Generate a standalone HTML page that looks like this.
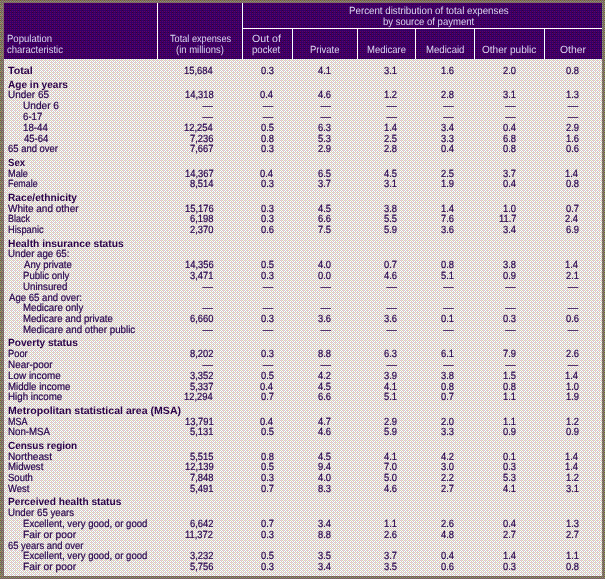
<!DOCTYPE html>
<html lang="en"><head><meta charset="utf-8"><title>Total expenses by population characteristic</title>
<style>
html,body{margin:0;padding:0;background:#fff;overflow:hidden}
#t{position:relative;width:605px;height:579px;overflow:hidden;font-family:"Liberation Sans",sans-serif;font-size:10.4px;line-height:12px;text-rendering:geometricPrecision;color:#26004d;-webkit-text-stroke:0.2px #26004d}
#t svg{position:absolute;left:0;top:0;shape-rendering:crispEdges}
#t span{position:absolute;white-space:nowrap;transform-origin:0 0;display:block}
#t .h{color:#dcd5f2;-webkit-text-stroke:0}
#t .b{font-weight:bold;color:#2a0048;-webkit-text-stroke:0}
</style></head>
<body><div id="t">
<svg width="605" height="579" viewBox="0 0 605 579">
<defs>
<pattern id="pb" width="8" height="8" patternUnits="userSpaceOnUse">
<rect width="8" height="8" fill="#666666"/>
<rect x="0" y="0" width="1" height="1" fill="#666633"/>
<rect x="1" y="0" width="1" height="1" fill="#996666"/>
<rect x="3" y="0" width="1" height="1" fill="#996666"/>
<rect x="4" y="0" width="1" height="1" fill="#666633"/>
<rect x="5" y="0" width="1" height="1" fill="#996666"/>
<rect x="7" y="0" width="1" height="1" fill="#996666"/>
<rect x="0" y="1" width="1" height="1" fill="#999966"/>
<rect x="2" y="1" width="1" height="1" fill="#999966"/>
<rect x="4" y="1" width="1" height="1" fill="#999966"/>
<rect x="6" y="1" width="1" height="1" fill="#999966"/>
<rect x="1" y="2" width="1" height="1" fill="#996666"/>
<rect x="3" y="2" width="1" height="1" fill="#996666"/>
<rect x="5" y="2" width="1" height="1" fill="#996666"/>
<rect x="7" y="2" width="1" height="1" fill="#996666"/>
<rect x="0" y="3" width="1" height="1" fill="#999966"/>
<rect x="2" y="3" width="1" height="1" fill="#999966"/>
<rect x="4" y="3" width="1" height="1" fill="#999966"/>
<rect x="6" y="3" width="1" height="1" fill="#999966"/>
<rect x="0" y="4" width="1" height="1" fill="#666633"/>
<rect x="1" y="4" width="1" height="1" fill="#996666"/>
<rect x="3" y="4" width="1" height="1" fill="#996666"/>
<rect x="4" y="4" width="1" height="1" fill="#666633"/>
<rect x="5" y="4" width="1" height="1" fill="#996666"/>
<rect x="7" y="4" width="1" height="1" fill="#996666"/>
<rect x="0" y="5" width="1" height="1" fill="#999966"/>
<rect x="2" y="5" width="1" height="1" fill="#999966"/>
<rect x="4" y="5" width="1" height="1" fill="#999966"/>
<rect x="6" y="5" width="1" height="1" fill="#999966"/>
<rect x="1" y="6" width="1" height="1" fill="#999966"/>
<rect x="3" y="6" width="1" height="1" fill="#996666"/>
<rect x="5" y="6" width="1" height="1" fill="#996666"/>
<rect x="7" y="6" width="1" height="1" fill="#996666"/>
<rect x="0" y="7" width="1" height="1" fill="#999966"/>
<rect x="1" y="7" width="1" height="1" fill="#996666"/>
<rect x="2" y="7" width="1" height="1" fill="#999966"/>
<rect x="4" y="7" width="1" height="1" fill="#999966"/>
<rect x="6" y="7" width="1" height="1" fill="#999966"/>
</pattern>
<pattern id="ph" width="8" height="8" patternUnits="userSpaceOnUse">
<rect width="8" height="8" fill="#330066"/>
<rect x="0" y="0" width="1" height="1" fill="#330033"/>
<rect x="4" y="0" width="1" height="1" fill="#330033"/>
<rect x="0" y="1" width="1" height="1" fill="#660066"/>
<rect x="2" y="1" width="1" height="1" fill="#660066"/>
<rect x="4" y="1" width="1" height="1" fill="#660066"/>
<rect x="6" y="1" width="1" height="1" fill="#660066"/>
<rect x="2" y="2" width="1" height="1" fill="#330033"/>
<rect x="0" y="3" width="1" height="1" fill="#660066"/>
<rect x="2" y="3" width="1" height="1" fill="#660066"/>
<rect x="4" y="3" width="1" height="1" fill="#660066"/>
<rect x="6" y="3" width="1" height="1" fill="#660066"/>
<rect x="0" y="4" width="1" height="1" fill="#330033"/>
<rect x="4" y="4" width="1" height="1" fill="#330033"/>
<rect x="0" y="5" width="1" height="1" fill="#660066"/>
<rect x="2" y="5" width="1" height="1" fill="#660066"/>
<rect x="4" y="5" width="1" height="1" fill="#660066"/>
<rect x="6" y="5" width="1" height="1" fill="#660066"/>
<rect x="0" y="7" width="1" height="1" fill="#660066"/>
<rect x="2" y="7" width="1" height="1" fill="#660066"/>
<rect x="4" y="7" width="1" height="1" fill="#660066"/>
<rect x="6" y="7" width="1" height="1" fill="#660066"/>
</pattern>
<pattern id="pd" width="8" height="8" patternUnits="userSpaceOnUse">
<rect width="8" height="8" fill="#cccccc"/>
<rect x="1" y="0" width="1" height="1" fill="#ffcccc"/>
<rect x="3" y="0" width="1" height="1" fill="#ffffcc"/>
<rect x="5" y="0" width="1" height="1" fill="#ffcccc"/>
<rect x="7" y="0" width="1" height="1" fill="#ffffcc"/>
<rect x="0" y="1" width="1" height="1" fill="#ffffff"/>
<rect x="2" y="1" width="1" height="1" fill="#ffffff"/>
<rect x="4" y="1" width="1" height="1" fill="#ffffff"/>
<rect x="6" y="1" width="1" height="1" fill="#ffffff"/>
<rect x="1" y="2" width="1" height="1" fill="#ffffcc"/>
<rect x="3" y="2" width="1" height="1" fill="#ffcccc"/>
<rect x="5" y="2" width="1" height="1" fill="#ffffff"/>
<rect x="7" y="2" width="1" height="1" fill="#ffcccc"/>
<rect x="0" y="3" width="1" height="1" fill="#ffffff"/>
<rect x="2" y="3" width="1" height="1" fill="#ffffff"/>
<rect x="4" y="3" width="1" height="1" fill="#ffffff"/>
<rect x="6" y="3" width="1" height="1" fill="#ffffff"/>
<rect x="1" y="4" width="1" height="1" fill="#ffcccc"/>
<rect x="3" y="4" width="1" height="1" fill="#ffffcc"/>
<rect x="5" y="4" width="1" height="1" fill="#ffcccc"/>
<rect x="7" y="4" width="1" height="1" fill="#ffffcc"/>
<rect x="0" y="5" width="1" height="1" fill="#ffffff"/>
<rect x="2" y="5" width="1" height="1" fill="#ffffff"/>
<rect x="4" y="5" width="1" height="1" fill="#ffffff"/>
<rect x="6" y="5" width="1" height="1" fill="#ffffff"/>
<rect x="1" y="6" width="1" height="1" fill="#ffffff"/>
<rect x="3" y="6" width="1" height="1" fill="#ffcccc"/>
<rect x="5" y="6" width="1" height="1" fill="#ffffff"/>
<rect x="7" y="6" width="1" height="1" fill="#ffcccc"/>
<rect x="0" y="7" width="1" height="1" fill="#ffffff"/>
<rect x="2" y="7" width="1" height="1" fill="#ffffff"/>
<rect x="4" y="7" width="1" height="1" fill="#ffffff"/>
<rect x="6" y="7" width="1" height="1" fill="#ffffff"/>
</pattern>
</defs>
<rect width="605" height="579" fill="url(#pb)"/>
<rect x="4" y="3" width="598" height="56" fill="url(#ph)"/>
<rect x="4" y="59" width="598" height="517" fill="url(#pd)"/>
<g fill="#ffffff">
<rect x="157" y="3" width="1" height="56"/>
<rect x="242" y="3" width="1" height="56"/>
<rect x="243" y="28" width="359" height="1"/>
<rect x="292" y="29" width="1" height="30"/>
<rect x="357" y="29" width="1" height="30"/>
<rect x="415" y="29" width="1" height="30"/>
<rect x="474" y="29" width="1" height="30"/>
<rect x="544" y="29" width="1" height="30"/>
</g>
</svg>
<div class="thead">
<span class="h" style="left:7.10px;top:34px;transform:scaleX(0.9176)">Population</span>
<span class="h" style="left:7.44px;top:45px;transform:scaleX(0.9143)">characteristic</span>
<span class="h" style="left:169.78px;top:34px;transform:scaleX(0.8815)">Total expenses</span>
<span class="h" style="left:176.43px;top:45px;transform:scaleX(0.9112)">(in millions)</span>
<span class="h" style="left:251.59px;top:34px;transform:scaleX(1.0198)">Out of</span>
<span class="h" style="left:251.52px;top:45px;transform:scaleX(0.9238)">pocket</span>
<span class="h" style="left:310.40px;top:45px;transform:scaleX(0.9129)">Private</span>
<span class="h" style="left:366.70px;top:45px;transform:scaleX(0.9136)">Medicare</span>
<span class="h" style="left:425.89px;top:45px;transform:scaleX(0.9250)">Medicaid</span>
<span class="h" style="left:482.22px;top:45px;transform:scaleX(0.9683)">Other public</span>
<span class="h" style="left:559.60px;top:45px;transform:scaleX(0.9970)">Other</span>
<span class="h" style="left:348.98px;top:6px;transform:scaleX(0.9372)">Percent distribution of total expenses</span>
<span class="h" style="left:382.63px;top:17px;transform:scaleX(0.9176)">by source of payment</span>
</div>
<div class="tbody">
<div class="row">
<span class="b" style="left:7.97px;top:66px;transform:scaleX(1.0292)">Total</span>
<span class="n" style="left:184.45px;top:66px;transform:scaleX(0.9000)">15,684</span>
<span class="n" style="left:260.60px;top:66px;transform:scaleX(0.9000)">0.3</span>
<span class="n" style="left:318.31px;top:66px;transform:scaleX(0.9000)">4.1</span>
<span class="n" style="left:384.41px;top:66px;transform:scaleX(0.9000)">3.1</span>
<span class="n" style="left:441.00px;top:66px;transform:scaleX(0.9000)">1.6</span>
<span class="n" style="left:503.10px;top:66px;transform:scaleX(0.9000)">2.0</span>
<span class="n" style="left:565.50px;top:66px;transform:scaleX(0.9000)">0.8</span>
</div>
<div class="row">
<span class="b" style="left:8.26px;top:80px;transform:scaleX(0.9701)">Age in years</span>
</div>
<div class="row">
<span class="l" style="left:7.78px;top:90px;transform:scaleX(0.9590)">Under 65</span>
<span class="n" style="left:184.56px;top:90px;transform:scaleX(0.9000)">14,318</span>
<span class="n" style="left:260.49px;top:90px;transform:scaleX(0.9000)">0.4</span>
<span class="n" style="left:318.20px;top:90px;transform:scaleX(0.9000)">4.6</span>
<span class="n" style="left:384.41px;top:90px;transform:scaleX(0.9000)">1.2</span>
<span class="n" style="left:441.00px;top:90px;transform:scaleX(0.9000)">2.8</span>
<span class="n" style="left:503.21px;top:90px;transform:scaleX(0.9000)">3.1</span>
<span class="n" style="left:565.50px;top:90px;transform:scaleX(0.9000)">1.3</span>
</div>
<div class="row">
<span class="l" style="left:23.27px;top:101px;transform:scaleX(0.9734)">Under 6</span>
<span class="n" style="left:202.43px;top:101px;transform:scaleX(1.0000)">—</span>
<span class="n" style="left:262.82px;top:101px;transform:scaleX(1.0000)">—</span>
<span class="n" style="left:320.43px;top:101px;transform:scaleX(1.0000)">—</span>
<span class="n" style="left:386.52px;top:101px;transform:scaleX(1.0000)">—</span>
<span class="n" style="left:443.23px;top:101px;transform:scaleX(1.0000)">—</span>
<span class="n" style="left:505.33px;top:101px;transform:scaleX(1.0000)">—</span>
<span class="n" style="left:567.73px;top:101px;transform:scaleX(1.0000)">—</span>
</div>
<div class="row">
<span class="l" style="left:23.33px;top:112px;transform:scaleX(0.9316)">6-17</span>
<span class="n" style="left:202.43px;top:112px;transform:scaleX(1.0000)">—</span>
<span class="n" style="left:262.82px;top:112px;transform:scaleX(1.0000)">—</span>
<span class="n" style="left:320.43px;top:112px;transform:scaleX(1.0000)">—</span>
<span class="n" style="left:386.52px;top:112px;transform:scaleX(1.0000)">—</span>
<span class="n" style="left:443.23px;top:112px;transform:scaleX(1.0000)">—</span>
<span class="n" style="left:505.33px;top:112px;transform:scaleX(1.0000)">—</span>
<span class="n" style="left:567.73px;top:112px;transform:scaleX(1.0000)">—</span>
</div>
<div class="row">
<span class="l" style="left:23.10px;top:123px;transform:scaleX(0.9333)">18-44</span>
<span class="n" style="left:184.45px;top:123px;transform:scaleX(0.9000)">12,254</span>
<span class="n" style="left:260.60px;top:123px;transform:scaleX(0.9000)">0.5</span>
<span class="n" style="left:318.20px;top:123px;transform:scaleX(0.9000)">6.3</span>
<span class="n" style="left:384.19px;top:123px;transform:scaleX(0.9000)">1.4</span>
<span class="n" style="left:440.89px;top:123px;transform:scaleX(0.9000)">3.4</span>
<span class="n" style="left:502.99px;top:123px;transform:scaleX(0.9000)">0.4</span>
<span class="n" style="left:565.50px;top:123px;transform:scaleX(0.9000)">2.9</span>
</div>
<div class="row">
<span class="l" style="left:23.57px;top:134px;transform:scaleX(0.9154)">45-64</span>
<span class="n" style="left:189.85px;top:134px;transform:scaleX(0.9000)">7,236</span>
<span class="n" style="left:260.60px;top:134px;transform:scaleX(0.9000)">0.8</span>
<span class="n" style="left:318.20px;top:134px;transform:scaleX(0.9000)">5.3</span>
<span class="n" style="left:384.30px;top:134px;transform:scaleX(0.9000)">2.5</span>
<span class="n" style="left:441.00px;top:134px;transform:scaleX(0.9000)">3.3</span>
<span class="n" style="left:503.10px;top:134px;transform:scaleX(0.9000)">6.8</span>
<span class="n" style="left:565.50px;top:134px;transform:scaleX(0.9000)">1.6</span>
</div>
<div class="row">
<span class="l" style="left:8.04px;top:144px;transform:scaleX(0.9106)">65 and over</span>
<span class="n" style="left:189.85px;top:144px;transform:scaleX(0.9000)">7,667</span>
<span class="n" style="left:260.60px;top:144px;transform:scaleX(0.9000)">0.3</span>
<span class="n" style="left:318.20px;top:144px;transform:scaleX(0.9000)">2.9</span>
<span class="n" style="left:384.30px;top:144px;transform:scaleX(0.9000)">2.8</span>
<span class="n" style="left:440.89px;top:144px;transform:scaleX(0.9000)">0.4</span>
<span class="n" style="left:503.10px;top:144px;transform:scaleX(0.9000)">0.8</span>
<span class="n" style="left:565.50px;top:144px;transform:scaleX(0.9000)">0.6</span>
</div>
<div class="row">
<span class="b" style="left:8.15px;top:158px;transform:scaleX(0.9222)">Sex</span>
</div>
<div class="row">
<span class="l" style="left:7.73px;top:169px;transform:scaleX(0.8847)">Male</span>
<span class="n" style="left:184.68px;top:169px;transform:scaleX(0.9000)">14,367</span>
<span class="n" style="left:260.49px;top:169px;transform:scaleX(0.9000)">0.4</span>
<span class="n" style="left:318.20px;top:169px;transform:scaleX(0.9000)">6.5</span>
<span class="n" style="left:384.30px;top:169px;transform:scaleX(0.9000)">4.5</span>
<span class="n" style="left:441.00px;top:169px;transform:scaleX(0.9000)">2.5</span>
<span class="n" style="left:503.21px;top:169px;transform:scaleX(0.9000)">3.7</span>
<span class="n" style="left:565.39px;top:169px;transform:scaleX(0.9000)">1.4</span>
</div>
<div class="row">
<span class="l" style="left:7.75px;top:179px;transform:scaleX(0.8539)">Female</span>
<span class="n" style="left:189.62px;top:179px;transform:scaleX(0.9000)">8,514</span>
<span class="n" style="left:260.60px;top:179px;transform:scaleX(0.9000)">0.3</span>
<span class="n" style="left:318.31px;top:179px;transform:scaleX(0.9000)">3.7</span>
<span class="n" style="left:384.41px;top:179px;transform:scaleX(0.9000)">3.1</span>
<span class="n" style="left:441.00px;top:179px;transform:scaleX(0.9000)">1.9</span>
<span class="n" style="left:502.99px;top:179px;transform:scaleX(0.9000)">0.4</span>
<span class="n" style="left:565.50px;top:179px;transform:scaleX(0.9000)">0.8</span>
</div>
<div class="row">
<span class="b" style="left:7.77px;top:193px;transform:scaleX(0.9795)">Race/ethnicity</span>
</div>
<div class="row">
<span class="l" style="left:8.38px;top:204px;transform:scaleX(0.9614)">White and other</span>
<span class="n" style="left:184.56px;top:204px;transform:scaleX(0.9000)">15,176</span>
<span class="n" style="left:260.60px;top:204px;transform:scaleX(0.9000)">0.3</span>
<span class="n" style="left:318.20px;top:204px;transform:scaleX(0.9000)">4.5</span>
<span class="n" style="left:384.30px;top:204px;transform:scaleX(0.9000)">3.8</span>
<span class="n" style="left:440.89px;top:204px;transform:scaleX(0.9000)">1.4</span>
<span class="n" style="left:503.10px;top:204px;transform:scaleX(0.9000)">1.0</span>
<span class="n" style="left:565.61px;top:204px;transform:scaleX(0.9000)">0.7</span>
</div>
<div class="row">
<span class="l" style="left:7.75px;top:214px;transform:scaleX(0.8612)">Black</span>
<span class="n" style="left:189.85px;top:214px;transform:scaleX(0.9000)">6,198</span>
<span class="n" style="left:260.60px;top:214px;transform:scaleX(0.9000)">0.3</span>
<span class="n" style="left:318.20px;top:214px;transform:scaleX(0.9000)">6.6</span>
<span class="n" style="left:384.30px;top:214px;transform:scaleX(0.9000)">5.5</span>
<span class="n" style="left:441.00px;top:214px;transform:scaleX(0.9000)">7.6</span>
<span class="n" style="left:498.60px;top:214px;transform:scaleX(0.9000)">11.7</span>
<span class="n" style="left:565.39px;top:214px;transform:scaleX(0.9000)">2.4</span>
</div>
<div class="row">
<span class="l" style="left:7.72px;top:225px;transform:scaleX(0.8929)">Hispanic</span>
<span class="n" style="left:189.74px;top:225px;transform:scaleX(0.9000)">2,370</span>
<span class="n" style="left:260.60px;top:225px;transform:scaleX(0.9000)">0.6</span>
<span class="n" style="left:318.20px;top:225px;transform:scaleX(0.9000)">7.5</span>
<span class="n" style="left:384.30px;top:225px;transform:scaleX(0.9000)">5.9</span>
<span class="n" style="left:441.00px;top:225px;transform:scaleX(0.9000)">3.6</span>
<span class="n" style="left:502.99px;top:225px;transform:scaleX(0.9000)">3.4</span>
<span class="n" style="left:565.50px;top:225px;transform:scaleX(0.9000)">6.9</span>
</div>
<div class="row">
<span class="b" style="left:7.76px;top:239px;transform:scaleX(0.9871)">Health insurance status</span>
</div>
<div class="row">
<span class="l" style="left:7.80px;top:249px;transform:scaleX(0.9326)">Under age 65:</span>
</div>
<div class="row">
<span class="l" style="left:23.50px;top:260px;transform:scaleX(0.9204)">Any private</span>
<span class="n" style="left:184.56px;top:260px;transform:scaleX(0.9000)">14,356</span>
<span class="n" style="left:260.60px;top:260px;transform:scaleX(0.9000)">0.5</span>
<span class="n" style="left:318.20px;top:260px;transform:scaleX(0.9000)">4.0</span>
<span class="n" style="left:384.41px;top:260px;transform:scaleX(0.9000)">0.7</span>
<span class="n" style="left:441.00px;top:260px;transform:scaleX(0.9000)">0.8</span>
<span class="n" style="left:503.10px;top:260px;transform:scaleX(0.9000)">3.8</span>
<span class="n" style="left:565.39px;top:260px;transform:scaleX(0.9000)">1.4</span>
</div>
<div class="row">
<span class="l" style="left:22.99px;top:271px;transform:scaleX(0.9215)">Public only</span>
<span class="n" style="left:189.85px;top:271px;transform:scaleX(0.9000)">3,471</span>
<span class="n" style="left:260.60px;top:271px;transform:scaleX(0.9000)">0.3</span>
<span class="n" style="left:318.20px;top:271px;transform:scaleX(0.9000)">0.0</span>
<span class="n" style="left:384.30px;top:271px;transform:scaleX(0.9000)">4.6</span>
<span class="n" style="left:441.11px;top:271px;transform:scaleX(0.9000)">5.1</span>
<span class="n" style="left:503.10px;top:271px;transform:scaleX(0.9000)">0.9</span>
<span class="n" style="left:565.61px;top:271px;transform:scaleX(0.9000)">2.1</span>
</div>
<div class="row">
<span class="l" style="left:23.10px;top:282px;transform:scaleX(0.9370)">Uninsured</span>
<span class="n" style="left:202.43px;top:282px;transform:scaleX(1.0000)">—</span>
<span class="n" style="left:262.82px;top:282px;transform:scaleX(1.0000)">—</span>
<span class="n" style="left:320.43px;top:282px;transform:scaleX(1.0000)">—</span>
<span class="n" style="left:386.52px;top:282px;transform:scaleX(1.0000)">—</span>
<span class="n" style="left:443.23px;top:282px;transform:scaleX(1.0000)">—</span>
<span class="n" style="left:505.33px;top:282px;transform:scaleX(1.0000)">—</span>
<span class="n" style="left:567.73px;top:282px;transform:scaleX(1.0000)">—</span>
</div>
<div class="row">
<span class="l" style="left:8.50px;top:293px;transform:scaleX(0.9227)">Age 65 and over:</span>
</div>
<div class="row">
<span class="l" style="left:22.98px;top:303px;transform:scaleX(0.9333)">Medicare only</span>
<span class="n" style="left:202.43px;top:303px;transform:scaleX(1.0000)">—</span>
<span class="n" style="left:262.82px;top:303px;transform:scaleX(1.0000)">—</span>
<span class="n" style="left:320.43px;top:303px;transform:scaleX(1.0000)">—</span>
<span class="n" style="left:386.52px;top:303px;transform:scaleX(1.0000)">—</span>
<span class="n" style="left:443.23px;top:303px;transform:scaleX(1.0000)">—</span>
<span class="n" style="left:505.33px;top:303px;transform:scaleX(1.0000)">—</span>
<span class="n" style="left:567.73px;top:303px;transform:scaleX(1.0000)">—</span>
</div>
<div class="row">
<span class="l" style="left:22.99px;top:314px;transform:scaleX(0.9253)">Medicare and private</span>
<span class="n" style="left:189.74px;top:314px;transform:scaleX(0.9000)">6,660</span>
<span class="n" style="left:260.60px;top:314px;transform:scaleX(0.9000)">0.3</span>
<span class="n" style="left:318.20px;top:314px;transform:scaleX(0.9000)">3.6</span>
<span class="n" style="left:384.30px;top:314px;transform:scaleX(0.9000)">3.6</span>
<span class="n" style="left:441.11px;top:314px;transform:scaleX(0.9000)">0.1</span>
<span class="n" style="left:503.10px;top:314px;transform:scaleX(0.9000)">0.3</span>
<span class="n" style="left:565.50px;top:314px;transform:scaleX(0.9000)">0.6</span>
</div>
<div class="row">
<span class="l" style="left:22.98px;top:325px;transform:scaleX(0.9385)">Medicare and other public</span>
<span class="n" style="left:202.43px;top:325px;transform:scaleX(1.0000)">—</span>
<span class="n" style="left:262.82px;top:325px;transform:scaleX(1.0000)">—</span>
<span class="n" style="left:320.43px;top:325px;transform:scaleX(1.0000)">—</span>
<span class="n" style="left:386.52px;top:325px;transform:scaleX(1.0000)">—</span>
<span class="n" style="left:443.23px;top:325px;transform:scaleX(1.0000)">—</span>
<span class="n" style="left:505.33px;top:325px;transform:scaleX(1.0000)">—</span>
<span class="n" style="left:567.73px;top:325px;transform:scaleX(1.0000)">—</span>
</div>
<div class="row">
<span class="b" style="left:7.77px;top:338px;transform:scaleX(0.9745)">Poverty status</span>
</div>
<div class="row">
<span class="l" style="left:7.72px;top:349px;transform:scaleX(0.8958)">Poor</span>
<span class="n" style="left:189.85px;top:349px;transform:scaleX(0.9000)">8,202</span>
<span class="n" style="left:260.60px;top:349px;transform:scaleX(0.9000)">0.3</span>
<span class="n" style="left:318.20px;top:349px;transform:scaleX(0.9000)">8.8</span>
<span class="n" style="left:384.30px;top:349px;transform:scaleX(0.9000)">6.3</span>
<span class="n" style="left:441.11px;top:349px;transform:scaleX(0.9000)">6.1</span>
<span class="n" style="left:503.10px;top:349px;transform:scaleX(0.9000)">7.9</span>
<span class="n" style="left:565.50px;top:349px;transform:scaleX(0.9000)">2.6</span>
</div>
<div class="row">
<span class="l" style="left:7.67px;top:360px;transform:scaleX(0.9530)">Near-poor</span>
<span class="n" style="left:202.43px;top:360px;transform:scaleX(1.0000)">—</span>
<span class="n" style="left:262.82px;top:360px;transform:scaleX(1.0000)">—</span>
<span class="n" style="left:320.43px;top:360px;transform:scaleX(1.0000)">—</span>
<span class="n" style="left:386.52px;top:360px;transform:scaleX(1.0000)">—</span>
<span class="n" style="left:443.23px;top:360px;transform:scaleX(1.0000)">—</span>
<span class="n" style="left:505.33px;top:360px;transform:scaleX(1.0000)">—</span>
<span class="n" style="left:567.73px;top:360px;transform:scaleX(1.0000)">—</span>
</div>
<div class="row">
<span class="l" style="left:7.67px;top:371px;transform:scaleX(0.9515)">Low income</span>
<span class="n" style="left:189.85px;top:371px;transform:scaleX(0.9000)">3,352</span>
<span class="n" style="left:260.60px;top:371px;transform:scaleX(0.9000)">0.5</span>
<span class="n" style="left:318.31px;top:371px;transform:scaleX(0.9000)">4.2</span>
<span class="n" style="left:384.30px;top:371px;transform:scaleX(0.9000)">3.9</span>
<span class="n" style="left:441.00px;top:371px;transform:scaleX(0.9000)">3.8</span>
<span class="n" style="left:503.10px;top:371px;transform:scaleX(0.9000)">1.5</span>
<span class="n" style="left:565.39px;top:371px;transform:scaleX(0.9000)">1.4</span>
</div>
<div class="row">
<span class="l" style="left:7.69px;top:382px;transform:scaleX(0.9310)">Middle income</span>
<span class="n" style="left:189.85px;top:382px;transform:scaleX(0.9000)">5,337</span>
<span class="n" style="left:260.49px;top:382px;transform:scaleX(0.9000)">0.4</span>
<span class="n" style="left:318.20px;top:382px;transform:scaleX(0.9000)">4.5</span>
<span class="n" style="left:384.41px;top:382px;transform:scaleX(0.9000)">4.1</span>
<span class="n" style="left:441.00px;top:382px;transform:scaleX(0.9000)">0.8</span>
<span class="n" style="left:503.10px;top:382px;transform:scaleX(0.9000)">0.8</span>
<span class="n" style="left:565.50px;top:382px;transform:scaleX(0.9000)">1.0</span>
</div>
<div class="row">
<span class="l" style="left:7.68px;top:392px;transform:scaleX(0.9384)">High income</span>
<span class="n" style="left:184.45px;top:392px;transform:scaleX(0.9000)">12,294</span>
<span class="n" style="left:260.71px;top:392px;transform:scaleX(0.9000)">0.7</span>
<span class="n" style="left:318.20px;top:392px;transform:scaleX(0.9000)">6.6</span>
<span class="n" style="left:384.41px;top:392px;transform:scaleX(0.9000)">5.1</span>
<span class="n" style="left:441.11px;top:392px;transform:scaleX(0.9000)">0.7</span>
<span class="n" style="left:503.21px;top:392px;transform:scaleX(0.9000)">1.1</span>
<span class="n" style="left:565.50px;top:392px;transform:scaleX(0.9000)">1.9</span>
</div>
<div class="row">
<span class="b" style="left:7.74px;top:406px;transform:scaleX(1.0158)">Metropolitan statistical area (MSA)</span>
</div>
<div class="row">
<span class="l" style="left:7.74px;top:417px;transform:scaleX(0.8647)">MSA</span>
<span class="n" style="left:184.68px;top:417px;transform:scaleX(0.9000)">13,791</span>
<span class="n" style="left:260.49px;top:417px;transform:scaleX(0.9000)">0.4</span>
<span class="n" style="left:318.31px;top:417px;transform:scaleX(0.9000)">4.7</span>
<span class="n" style="left:384.30px;top:417px;transform:scaleX(0.9000)">2.9</span>
<span class="n" style="left:441.00px;top:417px;transform:scaleX(0.9000)">2.0</span>
<span class="n" style="left:503.21px;top:417px;transform:scaleX(0.9000)">1.1</span>
<span class="n" style="left:565.61px;top:417px;transform:scaleX(0.9000)">1.2</span>
</div>
<div class="row">
<span class="l" style="left:7.68px;top:427px;transform:scaleX(0.9337)">Non-MSA</span>
<span class="n" style="left:189.85px;top:427px;transform:scaleX(0.9000)">5,131</span>
<span class="n" style="left:260.60px;top:427px;transform:scaleX(0.9000)">0.5</span>
<span class="n" style="left:318.20px;top:427px;transform:scaleX(0.9000)">4.6</span>
<span class="n" style="left:384.30px;top:427px;transform:scaleX(0.9000)">5.9</span>
<span class="n" style="left:441.00px;top:427px;transform:scaleX(0.9000)">3.3</span>
<span class="n" style="left:503.10px;top:427px;transform:scaleX(0.9000)">0.9</span>
<span class="n" style="left:565.50px;top:427px;transform:scaleX(0.9000)">0.9</span>
</div>
<div class="row">
<span class="b" style="left:8.14px;top:441px;transform:scaleX(0.9589)">Census region</span>
</div>
<div class="row">
<span class="l" style="left:7.65px;top:452px;transform:scaleX(0.9768)">Northeast</span>
<span class="n" style="left:189.85px;top:452px;transform:scaleX(0.9000)">5,515</span>
<span class="n" style="left:260.60px;top:452px;transform:scaleX(0.9000)">0.8</span>
<span class="n" style="left:318.20px;top:452px;transform:scaleX(0.9000)">4.5</span>
<span class="n" style="left:384.41px;top:452px;transform:scaleX(0.9000)">4.1</span>
<span class="n" style="left:441.11px;top:452px;transform:scaleX(0.9000)">4.2</span>
<span class="n" style="left:503.21px;top:452px;transform:scaleX(0.9000)">0.1</span>
<span class="n" style="left:565.39px;top:452px;transform:scaleX(0.9000)">1.4</span>
</div>
<div class="row">
<span class="l" style="left:7.69px;top:462px;transform:scaleX(0.9266)">Midwest</span>
<span class="n" style="left:184.68px;top:462px;transform:scaleX(0.9000)">12,139</span>
<span class="n" style="left:260.60px;top:462px;transform:scaleX(0.9000)">0.5</span>
<span class="n" style="left:318.09px;top:462px;transform:scaleX(0.9000)">9.4</span>
<span class="n" style="left:384.30px;top:462px;transform:scaleX(0.9000)">7.0</span>
<span class="n" style="left:441.00px;top:462px;transform:scaleX(0.9000)">3.0</span>
<span class="n" style="left:503.10px;top:462px;transform:scaleX(0.9000)">0.3</span>
<span class="n" style="left:565.39px;top:462px;transform:scaleX(0.9000)">1.4</span>
</div>
<div class="row">
<span class="l" style="left:8.04px;top:473px;transform:scaleX(0.9154)">South</span>
<span class="n" style="left:189.85px;top:473px;transform:scaleX(0.9000)">7,848</span>
<span class="n" style="left:260.60px;top:473px;transform:scaleX(0.9000)">0.3</span>
<span class="n" style="left:318.20px;top:473px;transform:scaleX(0.9000)">4.0</span>
<span class="n" style="left:384.30px;top:473px;transform:scaleX(0.9000)">5.0</span>
<span class="n" style="left:441.11px;top:473px;transform:scaleX(0.9000)">2.2</span>
<span class="n" style="left:503.10px;top:473px;transform:scaleX(0.9000)">5.3</span>
<span class="n" style="left:565.61px;top:473px;transform:scaleX(0.9000)">1.2</span>
</div>
<div class="row">
<span class="l" style="left:8.39px;top:484px;transform:scaleX(0.9075)">West</span>
<span class="n" style="left:189.85px;top:484px;transform:scaleX(0.9000)">5,491</span>
<span class="n" style="left:260.71px;top:484px;transform:scaleX(0.9000)">0.7</span>
<span class="n" style="left:318.20px;top:484px;transform:scaleX(0.9000)">8.3</span>
<span class="n" style="left:384.30px;top:484px;transform:scaleX(0.9000)">4.6</span>
<span class="n" style="left:441.11px;top:484px;transform:scaleX(0.9000)">2.7</span>
<span class="n" style="left:503.21px;top:484px;transform:scaleX(0.9000)">4.1</span>
<span class="n" style="left:565.61px;top:484px;transform:scaleX(0.9000)">3.1</span>
</div>
<div class="row">
<span class="b" style="left:7.77px;top:497px;transform:scaleX(0.9758)">Perceived health status</span>
</div>
<div class="row">
<span class="l" style="left:7.80px;top:508px;transform:scaleX(0.9302)">Under 65 years</span>
</div>
<div class="row">
<span class="l" style="left:22.99px;top:519px;transform:scaleX(0.9248)">Excellent, very good, or good</span>
<span class="n" style="left:189.85px;top:519px;transform:scaleX(0.9000)">6,642</span>
<span class="n" style="left:260.71px;top:519px;transform:scaleX(0.9000)">0.7</span>
<span class="n" style="left:318.09px;top:519px;transform:scaleX(0.9000)">3.4</span>
<span class="n" style="left:384.41px;top:519px;transform:scaleX(0.9000)">1.1</span>
<span class="n" style="left:441.00px;top:519px;transform:scaleX(0.9000)">2.6</span>
<span class="n" style="left:502.99px;top:519px;transform:scaleX(0.9000)">0.4</span>
<span class="n" style="left:565.50px;top:519px;transform:scaleX(0.9000)">1.3</span>
</div>
<div class="row">
<span class="l" style="left:22.93px;top:530px;transform:scaleX(0.9900)">Fair or poor</span>
<span class="n" style="left:185.35px;top:530px;transform:scaleX(0.9000)">11,372</span>
<span class="n" style="left:260.60px;top:530px;transform:scaleX(0.9000)">0.3</span>
<span class="n" style="left:318.20px;top:530px;transform:scaleX(0.9000)">8.8</span>
<span class="n" style="left:384.30px;top:530px;transform:scaleX(0.9000)">2.6</span>
<span class="n" style="left:441.00px;top:530px;transform:scaleX(0.9000)">4.8</span>
<span class="n" style="left:503.21px;top:530px;transform:scaleX(0.9000)">2.7</span>
<span class="n" style="left:565.61px;top:530px;transform:scaleX(0.9000)">2.7</span>
</div>
<div class="row">
<span class="l" style="left:8.05px;top:541px;transform:scaleX(0.9067)">65 years and over</span>
</div>
<div class="row">
<span class="l" style="left:22.99px;top:551px;transform:scaleX(0.9248)">Excellent, very good, or good</span>
<span class="n" style="left:189.85px;top:551px;transform:scaleX(0.9000)">3,232</span>
<span class="n" style="left:260.60px;top:551px;transform:scaleX(0.9000)">0.5</span>
<span class="n" style="left:318.20px;top:551px;transform:scaleX(0.9000)">3.5</span>
<span class="n" style="left:384.41px;top:551px;transform:scaleX(0.9000)">3.7</span>
<span class="n" style="left:440.89px;top:551px;transform:scaleX(0.9000)">0.4</span>
<span class="n" style="left:502.99px;top:551px;transform:scaleX(0.9000)">1.4</span>
<span class="n" style="left:565.61px;top:551px;transform:scaleX(0.9000)">1.1</span>
</div>
<div class="row">
<span class="l" style="left:22.93px;top:562px;transform:scaleX(0.9900)">Fair or poor</span>
<span class="n" style="left:189.85px;top:562px;transform:scaleX(0.9000)">5,756</span>
<span class="n" style="left:260.60px;top:562px;transform:scaleX(0.9000)">0.3</span>
<span class="n" style="left:318.09px;top:562px;transform:scaleX(0.9000)">3.4</span>
<span class="n" style="left:384.30px;top:562px;transform:scaleX(0.9000)">3.5</span>
<span class="n" style="left:441.00px;top:562px;transform:scaleX(0.9000)">0.6</span>
<span class="n" style="left:503.10px;top:562px;transform:scaleX(0.9000)">0.3</span>
<span class="n" style="left:565.50px;top:562px;transform:scaleX(0.9000)">0.8</span>
</div>
</div>
</div></body></html>
